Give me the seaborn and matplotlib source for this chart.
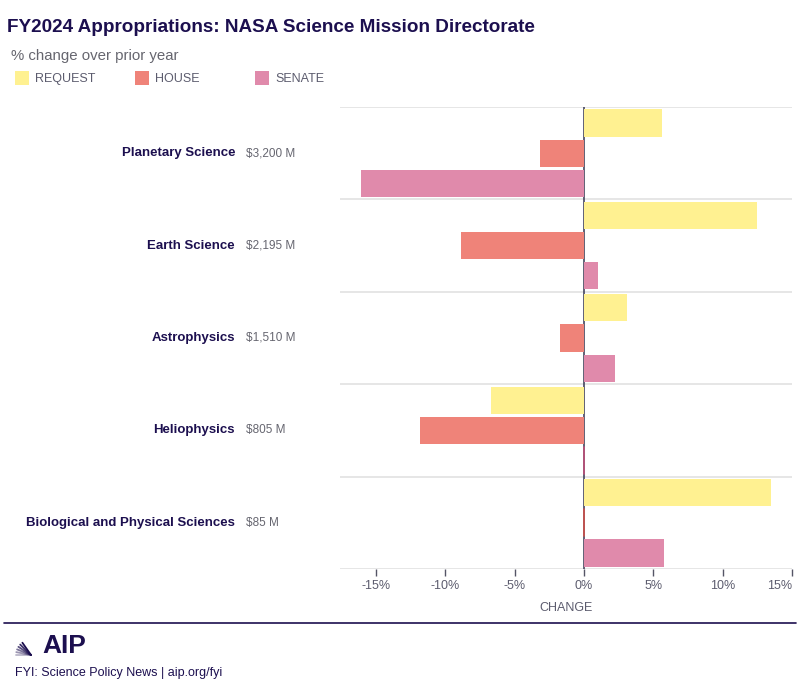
import matplotlib
matplotlib.use("Agg")
import matplotlib.pyplot as plt
import matplotlib.transforms as mtransforms
from matplotlib.patches import Rectangle
import seaborn as sns
import pandas as pd
import numpy as np

categories = ["Planetary Science", "Earth Science", "Astrophysics", "Heliophysics",
              "Biological and Physical Sciences"]
amounts = ["$3,200 M", "$2,195 M", "$1,510 M", "$805 M", "$85 M"]
series = ["REQUEST", "HOUSE", "SENATE"]
request = [5.65, 12.5, 3.1, -6.7, 13.5]
house = [-3.2, -8.9, -1.7, -11.8, 0.0]
senate = [-16.1, 1.0, 2.2, 0.0, 5.8]
xticks = [-15, -10, -5, 0, 5, 10, 15]
xticklabels = ["-15%", "-10%", "-5%", "0%", "5%", "10%", "15%"]
colors = ["#fff191", "#ef8379", "#e08aab"]

rows = []
for s, vals in zip(series, [request, house, senate]):
    for c, v in zip(categories, vals):
        rows.append({"category": c, "series": s, "value": v})
df = pd.DataFrame(rows)

sns.set_theme(style="white")
plt.rcParams["font.family"] = ["Liberation Sans", "DejaVu Sans"]

navy = "#1c0f4f"
grey = "#5c5c6e"

fig = plt.figure(figsize=(8, 7), dpi=100)
ax = fig.add_axes([340 / 800, 1 - 569 / 700, (792 - 340) / 800, (569 - 107) / 700])

sns.barplot(data=df, y="category", x="value", hue="series", order=categories,
            hue_order=series, palette=colors, saturation=1, width=0.98, gap=0.1,
            legend=False, orient="h", ax=ax, linewidth=0, zorder=2)

# zero-value bars shown as thin coloured lines
for patch in ax.patches:
    if abs(patch.get_width()) < 1e-9:
        fc = patch.get_facecolor()
        ax.plot([0, 0], [patch.get_y(), patch.get_y() + patch.get_height()],
                color="#c0507a" if fc[2] > 0.6 else "#d0504a", lw=1.2, zorder=3)

ax.set_xlim(-17.6, 15.0)
ax.set_ylim(len(categories) - 0.5, -0.5)
for b in [i - 0.5 for i in range(len(categories) + 1)]:
    ax.axhline(b, color="#e2e2e2", lw=1.2, zorder=1)
ax.axvline(0, color="#45455e", lw=1.2, zorder=1.5)

for sp in ax.spines.values():
    sp.set_visible(False)
ax.set_xticks(xticks)
ax.set_xticklabels(xticklabels)
ax.tick_params(axis="x", bottom=True, length=5, width=1, color="#555566",
               labelsize=9, labelcolor=grey, pad=3)
ax.get_xticklabels()[-1].set_horizontalalignment("right")
ax.get_xticklabels()[-1].set_x(15)
ax.set_yticks([])
ax.set_ylabel("")
ax.set_xlabel("CHANGE", fontsize=9, color=grey, labelpad=7)

trans = mtransforms.blended_transform_factory(fig.transFigure, ax.transData)
for i, (c, a) in enumerate(zip(categories, amounts)):
    ax.text(235 / 800, i, c, transform=trans, ha="right", va="center",
            fontsize=9.5, fontweight="bold", color=navy)
    ax.text(246 / 800, i, a, transform=trans, ha="left", va="center",
            fontsize=8.5, color="#666670")

# title / subtitle
fig.text(7 / 800, 1 - 27 / 700, "FY2024 Appropriations: NASA Science Mission Directorate",
         fontsize=13.6, fontweight="bold", color=navy, ha="left", va="center")
fig.text(11 / 800, 1 - 56 / 700, "% change over prior year", fontsize=10.8,
         color="#66666f", ha="left", va="center")

# legend
leg_x = [15, 135, 255]
for x0, s, col in zip(leg_x, series, colors):
    fig.patches.append(Rectangle((x0 / 800, 1 - 85 / 700), 14 / 800, 14 / 700,
                                 transform=fig.transFigure, facecolor=col,
                                 edgecolor="none"))
    fig.text((x0 + 20) / 800, 1 - 82 / 700, s, fontsize=9, color="#5c5c6e",
             ha="left", va="baseline")

# footer
fig.add_artist(plt.Line2D([4 / 800, 796 / 800], [1 - 623 / 700, 1 - 623 / 700],
                          transform=fig.transFigure, color=navy, lw=1.2))
for k, ang in enumerate(np.linspace(0, 55, 6)):
    r = np.deg2rad(ang)
    x1, y1 = 31, 655
    L = 15
    fig.add_artist(plt.Line2D([x1 / 800, (x1 - L * np.cos(r)) / 800],
                              [1 - y1 / 700, 1 - (y1 - L * np.sin(r)) / 700],
                              transform=fig.transFigure, color=navy,
                              lw=1.3, alpha=0.3 + 0.14 * k))
fig.text(42 / 800, 1 - 646 / 700, "AIP", fontsize=19, fontweight="bold",
         color=navy, ha="left", va="center")
fig.text(15 / 800, 1 - 673 / 700, "FYI: Science Policy News | aip.org/fyi",
         fontsize=9, color=navy, ha="left", va="center")

fig.savefig("out.png", dpi=100)
